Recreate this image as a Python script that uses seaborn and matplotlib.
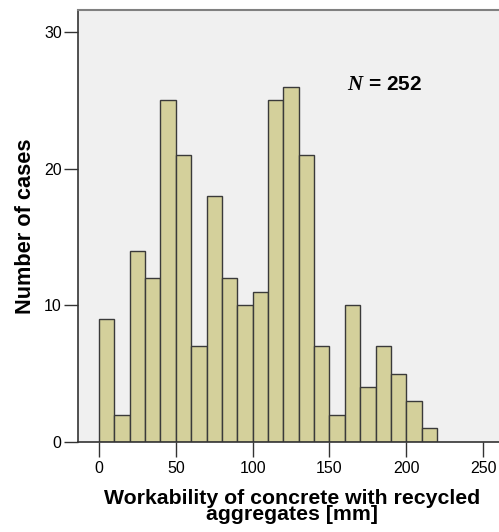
import matplotlib
matplotlib.use('Agg')
import matplotlib.pyplot as plt
import numpy as np
import seaborn as sns

# workability histogram, 10 mm bins from 0 to 220
bin_edges = [0, 10, 20, 30, 40, 50, 60, 70, 80, 90, 100, 110,
             120, 130, 140, 150, 160, 170, 180, 190, 200, 210, 220]
counts = [9, 2, 14, 12, 25, 21, 7, 18, 12, 10, 11,
          25, 26, 21, 7, 2, 10, 4, 7, 5, 3, 1]
x_ticks = [0, 50, 100, 150, 200, 250]
y_ticks = [0, 10, 20, 30]
n_total = 252

sns.set_style('ticks')
plt.rcParams['font.family'] = ['Liberation Sans', 'DejaVu Sans']
plt.rcParams['text.color'] = 'black'
plt.rcParams['axes.labelcolor'] = 'black'
plt.rcParams['xtick.labelcolor'] = 'black'
plt.rcParams['ytick.labelcolor'] = 'black'
plt.rcParams['mathtext.fontset'] = 'custom'
plt.rcParams['mathtext.it'] = 'Liberation Serif:italic:bold'
plt.rcParams['mathtext.rm'] = 'Liberation Sans'

BAR = '#D4D09B'
EDGE = '#3a3a3a'
AX = '#333333'

fig = plt.figure(figsize=(4.99, 5.32), dpi=100)
ax = fig.add_axes([0.1557, 0.1692, 0.8443, 0.812])
ax.set_facecolor('#F0F0F0')

bin_left = np.array(bin_edges[:-1]) + 5
sns.histplot(x=bin_left, weights=counts, bins=bin_edges, color=BAR,
             edgecolor=EDGE, linewidth=1.0, alpha=1, ax=ax)

ax.set_xlim(-13.9, 260.4)
ax.set_ylim(0, 31.6)
ax.set_xticks(x_ticks)
ax.set_yticks(y_ticks)
ax.tick_params(axis='x', length=11, width=1, color=AX, labelsize=11.5, pad=3)
ax.tick_params(axis='y', length=10, width=1, color=AX, labelsize=11.5, pad=1.5)

for s in ['left', 'bottom']:
    ax.spines[s].set_color(AX)
    ax.spines[s].set_linewidth(1.2)
ax.spines['top'].set_color('#808080')
ax.spines['top'].set_linewidth(1.5)
ax.spines['right'].set_visible(False)

ax.set_xlabel('Workability of concrete with recycled\naggregates [mm]',
              fontsize=15.3, fontweight='bold', linespacing=0.82)
ax.xaxis.set_label_coords(0.509, -0.109)
ax.set_ylabel('Number of cases', fontsize=15.7, fontweight='bold')
ax.yaxis.set_label_coords(-0.098, 0.5)

ax.text(161.5, 25.75, r'$N$ = ' + str(n_total), fontsize=15,
        fontweight='bold', ha='left', va='baseline')

plt.savefig('out.png', dpi=100)
plt.close()
